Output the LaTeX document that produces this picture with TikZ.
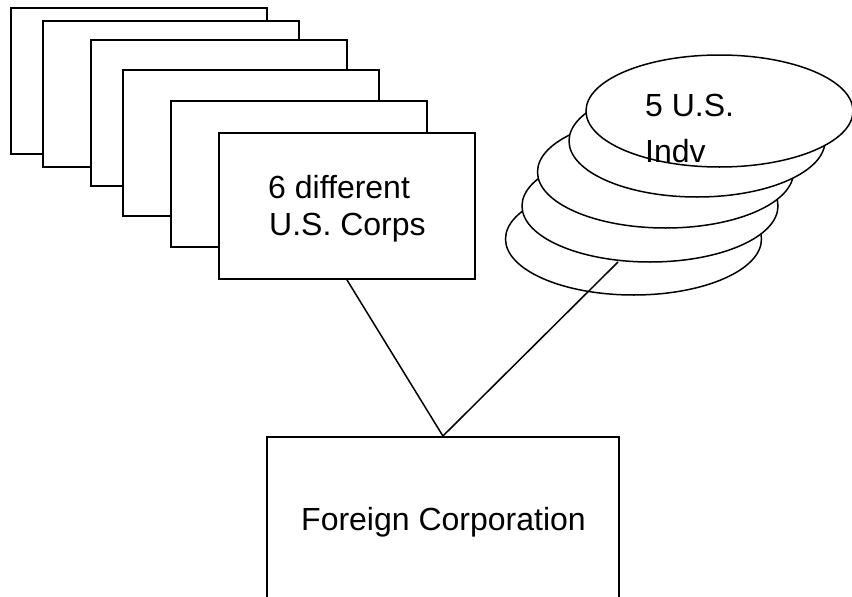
\documentclass[tikz,border=0pt]{standalone}
\usepackage{fontspec}
\setmainfont[Ligatures=NoCommon]{Liberation Sans}
\usetikzlibrary{shapes.geometric}
\begin{document}
\begin{tikzpicture}[x=1pt,y=-1pt,
  card/.style={draw=black,fill=white,line width=1.8pt,rectangle,minimum width=256pt,minimum height=146pt,inner sep=0pt,anchor=north west},
  disc/.style={draw=black,fill=white,line width=1.5pt,ellipse,minimum width=256pt,minimum height=112pt,inner sep=0pt},
  lbl/.style={font=\fontsize{32}{37}\selectfont,anchor=base west,inner sep=0pt},
  conn/.style={line width=1.5pt}]
\useasboundingbox (0,0) rectangle (852,597);
\clip (0,0) rectangle (852,597);
\node[card] (r1) at (10,7) {};
\node[card] (r2) at (42,20) {};
\node[card] (r3) at (90,39) {};
\node[card] (r4) at (122,69) {};
\node[card] (r5) at (170,100) {};
\node[card] (r6) at (218,132) {};
\node[lbl] (t6a) at (268,198) {6 different};
\node[lbl] (t6b) at (269,235) {U.S. Corps};
\node[disc] (e5) at (633.5,239) {};
\node[disc] (e4) at (650,206) {};
\node[disc] (e3) at (665.5,172) {};
\node[disc] (e2) at (697,141) {};
\node[disc,minimum width=267pt] (e1) at (719.5,111) {};
\node[lbl] (t5a) at (645,116) {5 U.S.};
\node[lbl] (t5b) at (645,162) {Indv};
\node[draw=black,line width=1.8pt,rectangle,minimum width=352pt,minimum height=200pt,inner sep=0pt,anchor=north west] (f) at (266,436) {};
\node[lbl] (tf) at (301,530) {Foreign Corporation};
\coordinate (e4b) at (618,262);
\draw[conn] (r6.south) -- (f.north);
\draw[conn] (f.north) -- (e4b);
\end{tikzpicture}
\end{document}
